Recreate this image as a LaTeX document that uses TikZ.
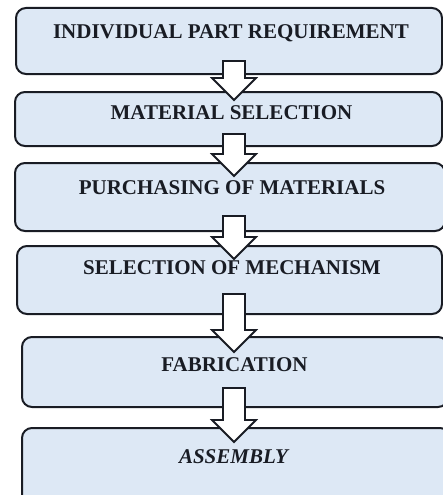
\documentclass[tikz,border=0pt]{standalone}
\usepackage{fontspec}
\setmainfont{Liberation Serif}
\usetikzlibrary{calc}
\definecolor{boxblue}{RGB}{221,232,245}
\definecolor{inkdark}{RGB}{25,28,36}
\tikzset{
  stepbox/.style={draw=inkdark, line width=2pt, rounded corners=10pt, fill=boxblue, inner sep=0pt},
  steptext/.style={anchor=base, inner sep=0pt, text=inkdark, font=\bfseries\fontsize{21}{24}\selectfont},
  blockarr/.style={draw=inkdark, line width=1.8pt, fill=white, line join=miter}
}
% block arrow: from below box #1 (raised by #2) down to inside box #3 (lowered by #4), on the axis
\newcommand{\blockarrow}[4]{%
  \draw[blockarr] let \p0=(axis), \p1=($(#1.south)+(0,-#2)$), \p2=($(#3.north)+(0,#4)$) in
    (\x0-11pt,\y1) -- (\x0+11pt,\y1) -- (\x0+11pt,\y2+22pt) -- (\x0+22pt,\y2+22pt)
    -- (\x0,\y2) -- (\x0-22pt,\y2+22pt) -- (\x0-11pt,\y2+22pt) -- cycle;}

\begin{document}
\begin{tikzpicture}[x=1pt, y=-1pt]
        \clip (0,0) rectangle (443,495);
        \coordinate (axis) at (234,0);

        % steps
        \node[stepbox, minimum width=426, minimum height=66] (b1) at (229,41) {};
        \node[stepbox, minimum width=427, minimum height=54] (b2) at (228.5,119) {};
        \node[stepbox, minimum width=430, minimum height=68] (b3) at (230,197) {};
        \node[stepbox, minimum width=425, minimum height=68] (b4) at (229.5,280) {};
        \node[stepbox, minimum width=426, minimum height=70] (b5) at (235,372) {};
        \node[stepbox, minimum width=428, minimum height=82] (b6) at (236,469) {};

        % texts
        \node[steptext] (t1) at ($(b1.north)+(2,31)$) {INDIVIDUAL PART REQUIREMENT};
        \node[steptext] (t2) at ($(b2.north)+(3,28)$) {MATERIAL SELECTION};
        \node[steptext] (t3) at ($(b3.north)+(2,32)$) {PURCHASING OF MATERIALS};
        \node[steptext] (t4) at ($(b4.north)+(2.5,29)$) {SELECTION OF MECHANISM};
        \node[steptext] (t5) at ($(b5.north)+(-0.5,35)$) {FABRICATION};
        \node[steptext] (t6) at ($(b6.north)+(-2.5,36)$) {\itshape ASSEMBLY};

        % arrows
        \blockarrow{b1}{14}{b2}{9}
        \blockarrow{b2}{13}{b3}{14}
        \blockarrow{b3}{16}{b4}{14}
        \blockarrow{b4}{21}{b5}{16}
        \blockarrow{b5}{20}{b6}{15}
\end{tikzpicture}
\end{document}
